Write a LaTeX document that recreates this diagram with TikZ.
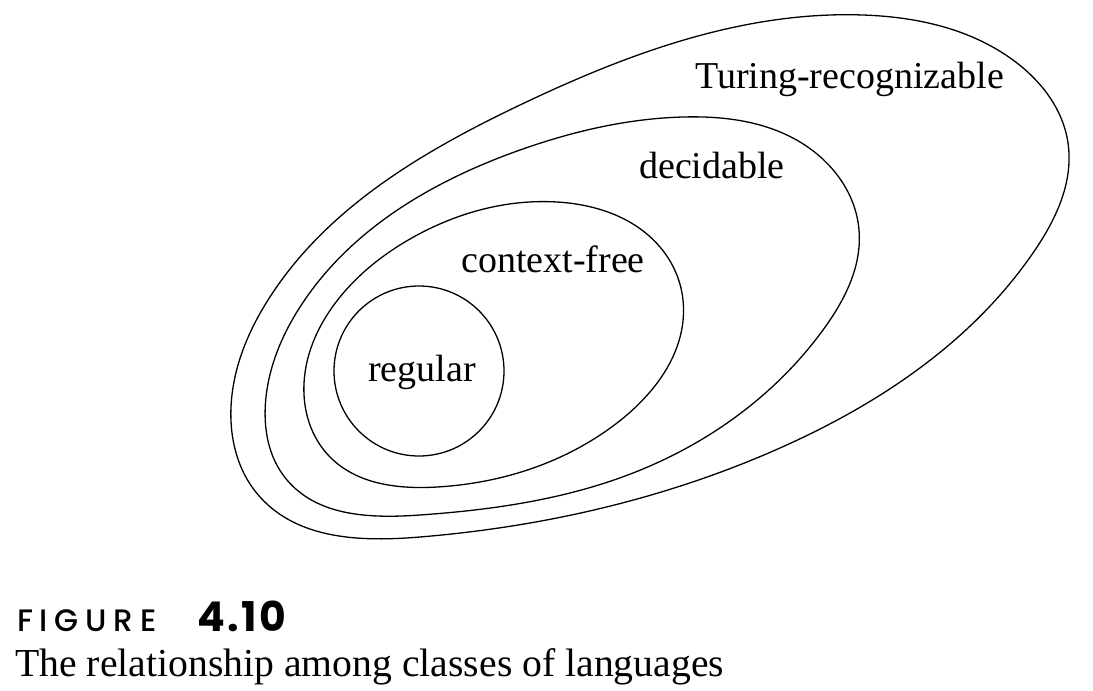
\documentclass[tikz,border=0pt]{standalone}
\usepackage{fontspec}
\usetikzlibrary{hobby}
\setmainfont{Liberation Serif}
\newfontfamily\capsans[LetterSpace=22]{Poppins Medium}
\newfontfamily\numsans[LetterSpace=6]{Poppins}
\begin{document}
\begin{tikzpicture}[x=1pt,y=-1pt,
  region/.style={draw=black,line width=1.3pt,use Hobby shortcut,closed=true},
  lbl/.style={inner sep=0pt,anchor=base west,font=\fontsize{38}{40}\selectfont}]
\useasboundingbox (0,0) rectangle (1093,691);

% Turing-recognizable
\draw[region] (231,407) .. (268,300) .. (520,105) .. (863,15) .. (1013,60)
  .. (1068,143) .. (1033,253) .. (780,448) .. (420,537) .. (260,497);

% decidable
\draw[region] (266,397) .. (300,307) .. (520,150) .. (683,117) .. (800,142)
  .. (859,230) .. (823,330) .. (633,473) .. (420,515) .. (287,480);

% context-free
\draw[region] (304,383) .. (340,297) .. (410,239) .. (557,202) .. (660,247)
  .. (683,300) .. (617,423) .. (437,487) .. (330,457);

% regular
\draw[draw=black,line width=1.3pt] (419,371) circle[radius=85];

\node[lbl] (tr) at (695,88) {Turing-recognizable};
\node[lbl] (dec) at (639,178) {decidable};
\node[lbl] (cf) at (461,272) {context-free};
\node[lbl] (reg) at (368,381) {regular};

\node[inner sep=0pt,anchor=base west,font=\capsans\fontsize{31}{33}\selectfont] (fig) at (17,631) {FIGURE};
\node[inner sep=0pt,anchor=base west,font=\numsans\bfseries\fontsize{41}{43}\selectfont] (num) at (197,631) {4.10};
\node[inner sep=0pt,anchor=base west,font=\fontsize{39.7}{42}\selectfont] (cap) at (15,676) {The relationship among classes of languages};
\end{tikzpicture}
\end{document}
